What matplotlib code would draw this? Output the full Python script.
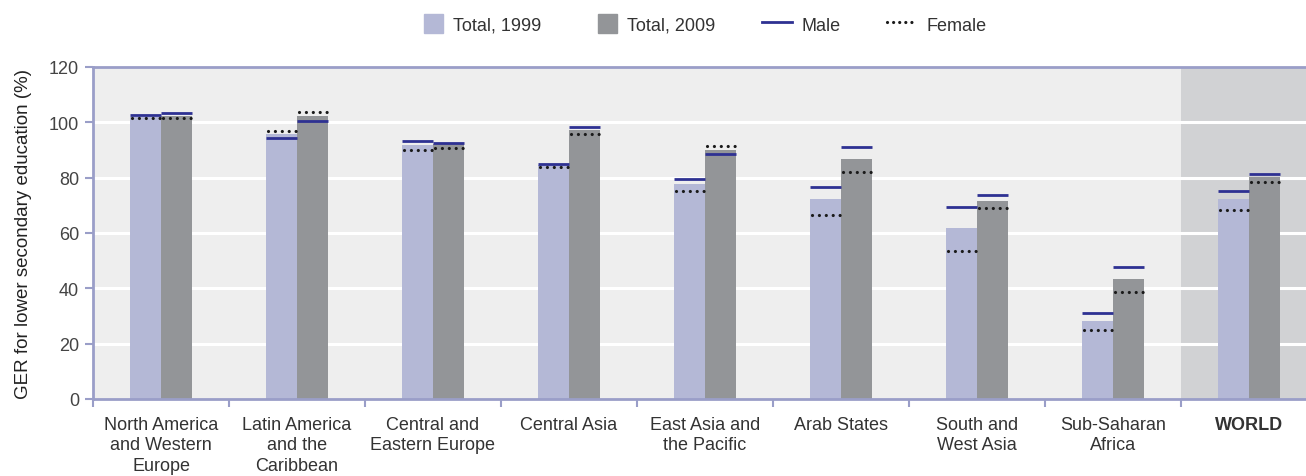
import matplotlib
matplotlib.use("Agg")
import matplotlib.pyplot as plt
import numpy as np
from matplotlib.patches import Patch, Rectangle
from matplotlib.lines import Line2D
from matplotlib.legend_handler import HandlerPatch

plt.rcParams['font.family'] = ['Liberation Sans', 'DejaVu Sans']

categories = ["North America\nand Western\nEurope", "Latin America\nand the\nCaribbean",
              "Central and\nEastern Europe", "Central Asia", "East Asia and\nthe Pacific",
              "Arab States", "South and\nWest Asia", "Sub-Saharan\nAfrica", "WORLD"]
total_1999 = [102.0, 95.8, 91.8, 84.5, 77.7, 72.3, 61.8, 28.2, 72.3]
total_2009 = [102.3, 102.3, 92.2, 97.2, 90.0, 86.7, 71.6, 43.4, 80.2]
male_1999 = [102.6, 94.2, 93.2, 84.8, 79.5, 76.7, 69.5, 31.0, 75.3]
male_2009 = [103.4, 100.5, 92.7, 98.3, 88.5, 91.2, 73.8, 47.7, 81.3]
female_1999 = [101.4, 97.0, 90.0, 83.7, 75.2, 66.6, 53.6, 25.1, 68.3]
female_2009 = [101.5, 103.6, 90.6, 95.9, 91.4, 82.2, 69.0, 38.8, 78.5]
yticks = [0, 20, 40, 60, 80, 100, 120]

c1999 = '#b4b8d6'
c2009 = '#939598'
cmale = '#2e3192'
cfem = '#1a1a1a'
cspine = '#9a9ec8'
dots = (0, (0.01, 2.15))

fig = plt.figure(figsize=(13.06, 4.77), dpi=100)
ax = fig.add_axes([93/1306, 1-400/477, 1-93/1306, (400-68)/477])
ax.set_facecolor('#eeeeee')

x = np.arange(len(categories))
w = 31/136
ax.axvspan(7.5, 9, color='#d1d2d4', zorder=0, lw=0)
for yv in yticks[1:-1]:
    ax.axhline(yv, color='white', lw=2.2, zorder=1)

ax.bar(x - w/2, total_1999, width=w, color=c1999, zorder=2)
ax.bar(x + w/2, total_2009, width=w, color=c2009, zorder=2)
ax.hlines(male_1999, x - w, x, colors=cmale, lw=2.0, zorder=3)
ax.hlines(male_2009, x, x + w, colors=cmale, lw=2.0, zorder=3)
f1 = ax.hlines(female_1999, x - w + 0.012, x, colors=cfem, lw=2.3, linestyles=dots, zorder=3)
f2 = ax.hlines(female_2009, x + 0.012, x + w, colors=cfem, lw=2.3, linestyles=dots, zorder=3)
for f in (f1, f2):
    f.set_capstyle('round')

ax.set_xlim(-0.5, -0.5 + 1213/136)
ax.set_ylim(0, 120)
ax.set_yticks(yticks)
ax.set_yticklabels([str(v) for v in yticks], fontsize=13, color='#444444')
ax.tick_params(axis='y', length=6, width=1.5, color=cspine, pad=4)
ax.set_xticks(x)
ax.set_xticklabels(categories, fontsize=13, color='#333333', linespacing=1.28)
for lab in ax.get_xticklabels():
    if lab.get_text() == 'WORLD':
        lab.set_fontweight('bold')
ax.tick_params(axis='x', length=0, pad=12, color=cspine)
ax.set_xticks(np.arange(-0.5, 8.5, 1.0), minor=True)
ax.tick_params(axis='x', which='minor', length=6, width=1.5, color=cspine)

for s in ['left', 'bottom', 'top']:
    ax.spines[s].set_color(cspine)
    ax.spines[s].set_linewidth(2)
ax.spines['right'].set_visible(False)

ax.set_ylabel('GER for lower secondary education (%)', fontsize=13.5, color='#222222', labelpad=12)


def square_patch(legend, orig_handle, xdescent, ydescent, width, height, fontsize):
    s = 19 * 72 / 100
    return Rectangle((width - s - xdescent, height / 2 - s / 2 - ydescent), s, s)


female_h = Line2D([], [], color=cfem, lw=2.3, linestyle=(0, (0.01, 1.9)),
                  dash_capstyle='round', label='Female')
handles = [Patch(color=c1999, label='Total, 1999'),
           Patch(color=c2009, label='Total, 2009'),
           Line2D([], [], color=cmale, lw=2, label='Male'),
           female_h]
fig.legend(handles=handles, loc='center', bbox_to_anchor=(700/1306, 1-25/477), ncol=4,
           frameon=False, fontsize=13, handlelength=1.66, handleheight=1.2,
           columnspacing=2.55, handletextpad=0.55, labelcolor='#333333',
           handler_map={Patch: HandlerPatch(patch_func=square_patch)})

fig.savefig('out.png', dpi=100)
